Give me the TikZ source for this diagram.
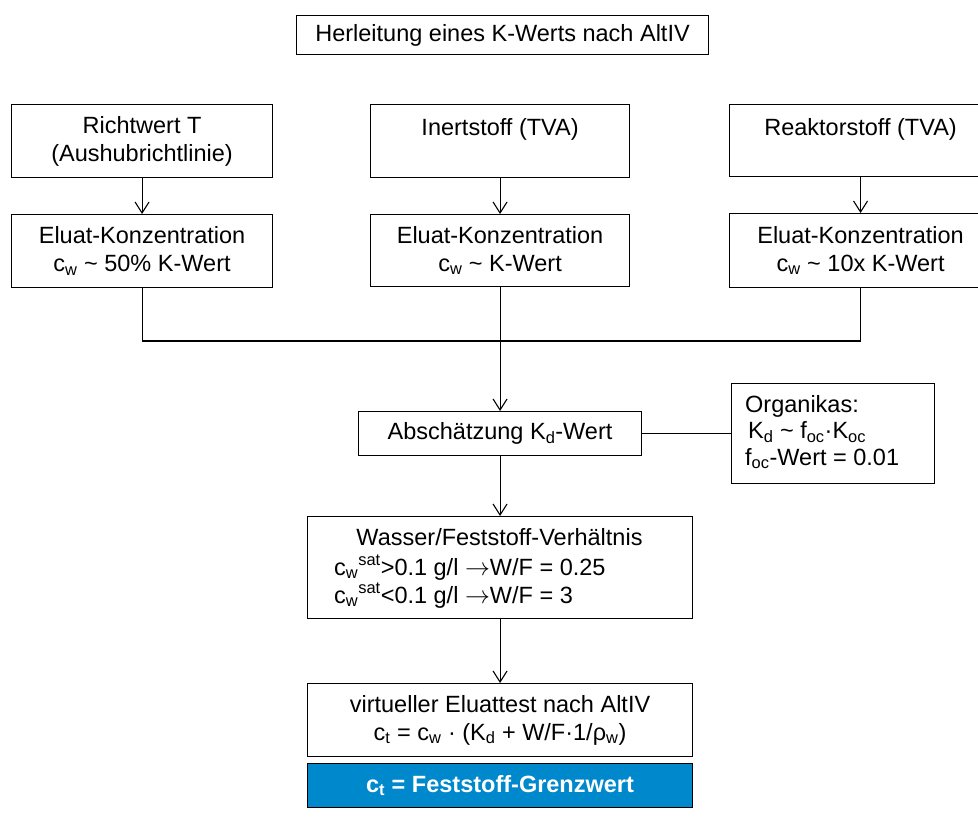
\documentclass[tikz,border=0pt]{standalone}
\usepackage{fontspec}
\setmainfont{Liberation Sans}
\usetikzlibrary{arrows.meta}
\definecolor{bluebox}{RGB}{0,136,204}
\begin{document}
\begin{tikzpicture}[x=1pt,y=-1pt,
  box/.style={draw,line width=1.1pt,inner sep=0pt,anchor=north west,align=center,
    font=\fontsize{23.5}{28}\selectfont},
  txt/.style={inner sep=0pt,font=\fontsize{23.5}{28}\selectfont},
  conn/.style={line width=1.1pt},
  arr/.style={conn,-{Straight Barb[length=11pt,width=14pt,line width=1.1pt]}}]
\useasboundingbox (0,0) rectangle (978,819);
% boxes
\node[box,minimum width=412pt,minimum height=39pt] (title) at (296,15) {Herleitung eines K-Werts nach AltIV};
\node[box,minimum width=261pt,minimum height=73pt] (R1) at (11,104) {Richtwert T\\(Aushubrichtlinie)};
\node[box,minimum width=259pt,minimum height=73pt] (I1) at (370,104) {Inertstoff (TVA)\\\phantom{X}};
\node[box,minimum width=262pt,minimum height=72pt] (T1) at (729,104) {Reaktorstoff (TVA)\\\phantom{X}};
\node[box,minimum width=261pt,minimum height=73pt] (R2) at (11,214) {Eluat-Konzentration\\c\textsubscript{w} \textasciitilde{} 50\% K-Wert};
\node[box,minimum width=259pt,minimum height=72pt] (I2) at (370,214) {Eluat-Konzentration\\c\textsubscript{w} \textasciitilde{} K-Wert};
\node[box,minimum width=262pt,minimum height=74pt] (T2) at (729,213) {Eluat-Konzentration\\c\textsubscript{w} \textasciitilde{} 10x K-Wert};
\node[box,minimum width=283pt,minimum height=44pt] (A) at (358,411) {Abschätzung K\textsubscript{d}-Wert};
\node[box,minimum width=203pt,minimum height=100pt] (O) at (731,383) {};
\node[box,minimum width=385pt,minimum height=102pt] (W) at (307,516) {};
\node[box,minimum width=385pt,minimum height=73pt] (V) at (307,683) {virtueller Eluattest nach AltIV\\c\textsubscript{t} = c\textsubscript{w} · (K\textsubscript{d} + W/F·1/ρ\textsubscript{w})};
\node[box,fill=bluebox,text=white,font=\fontsize{23.5}{28}\selectfont\bfseries,minimum width=385pt,minimum height=44pt] (B) at (307,763) {c\textsubscript{t} = Feststoff-Grenzwert};
% texts inside
\node[txt,anchor=west,align=left,font=\fontsize{23.5}{26.5}\selectfont] (Otxt) at (745,432) {Organikas:\\\hspace{3pt}K\textsubscript{d} \textasciitilde{} f\textsubscript{oc}·K\textsubscript{oc}\\f\textsubscript{oc}-Wert = 0.01};
\node[txt,anchor=base] (W1) at (499.5,545) {Wasser/Feststoff-Verhältnis};
\node[txt,anchor=base west] (W2) at (334,575) {c\textsubscript{w}\textsuperscript{sat}>0.1 g/l $\rightarrow$W/F = 0.25};
\node[txt,anchor=base west] (W3) at (334,603) {c\textsubscript{w}\textsuperscript{sat}<0.1 g/l $\rightarrow$W/F = 3};
% connectors
\coordinate (J) at (499.5,341);
\draw[arr] (R1.south) -- (R2.north);
\draw[arr] (I1.south) -- (I2.north);
\draw[arr] (T1.south) -- (T2.north);
\draw[conn] (R2.south) |- (J) -| (T2.south);
\draw[arr] (I2.south) -- (A.north);
\draw[conn] (A.east) -- (O.west);
\draw[arr] (A.south) -- (W.north);
\draw[arr] (W.south) -- (V.north);
\end{tikzpicture}
\end{document}
